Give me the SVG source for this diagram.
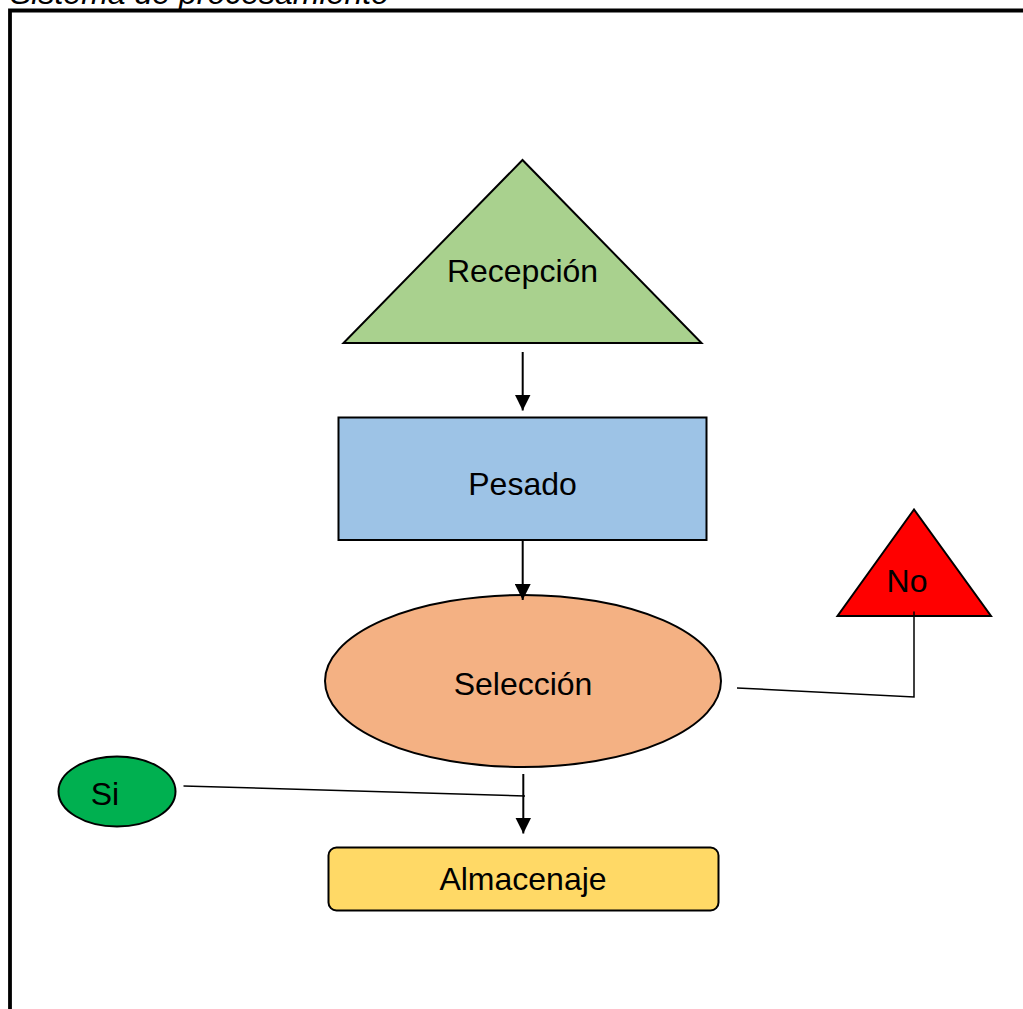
<svg xmlns="http://www.w3.org/2000/svg" width="1023" height="1009" viewBox="0 0 1023 1009">
<style>
.t{font-family:"Liberation Sans",Arial,sans-serif;font-size:32px;fill:#000;text-anchor:middle}
.s{stroke:#000;stroke-width:2}
.c{stroke:#000;fill:none}
</style>
<defs>
<marker id="ah" markerUnits="userSpaceOnUse" markerWidth="16" markerHeight="16" refX="16" refY="8" orient="auto" viewBox="0 0 16 16">
<path d="M0,0 L16,8 L0,16 Z" fill="#000"/>
</marker>
</defs>
<rect width="1023" height="1009" fill="#fff"/>
<g id="frame">
<text x="10" y="4" font-family="Liberation Sans,Arial,sans-serif" font-size="32" font-style="italic">Sistema de procesamiento</text>
<path d="M10,1009 L10,10.5 L1023,10.5" fill="none" stroke="#000" stroke-width="3.8"/>
</g>
<g id="recepcion">
<polygon class="s" points="522.5,160 343.5,343 701.5,343" fill="#A9D18E"/>
<text class="t" x="522.5" y="282">Recepción</text>
</g>
<g id="pesado">
<rect class="s" x="338.5" y="417.5" width="368" height="122.5" fill="#9DC3E6"/>
<text class="t" x="522.5" y="495">Pesado</text>
</g>
<g id="seleccion">
<ellipse class="s" cx="523" cy="681" rx="198" ry="86" fill="#F4B183"/>
<text class="t" x="523" y="695">Selección</text>
</g>
<g id="no">
<polygon class="s" points="914,509.5 837.5,616 991,616" fill="#FF0000"/>
<text class="t" x="907" y="592">No</text>
</g>
<g id="si">
<ellipse class="s" cx="117" cy="791.5" rx="58.5" ry="35" fill="#00B050"/>
<text class="t" x="105" y="805">Si</text>
</g>
<g id="almacenaje">
<rect class="s" x="328.5" y="847.5" width="390" height="63" rx="8" ry="8" fill="#FFD966"/>
<text class="t" x="523" y="890">Almacenaje</text>
</g>
<g id="connectors">
<line class="c" x1="522.7" y1="352" x2="522.7" y2="410.5" stroke-width="2" marker-end="url(#ah)"/>
<line class="c" x1="522.7" y1="540" x2="522.7" y2="600" stroke-width="2" marker-end="url(#ah)"/>
<line class="c" x1="523.3" y1="774" x2="523.3" y2="833.5" stroke-width="2" marker-end="url(#ah)"/>
<polyline class="c" points="914,611.5 914,697 737,688" stroke-width="1.5"/>
<line class="c" x1="183.5" y1="786" x2="525" y2="796" stroke-width="1.5"/>
</g>
</svg>
